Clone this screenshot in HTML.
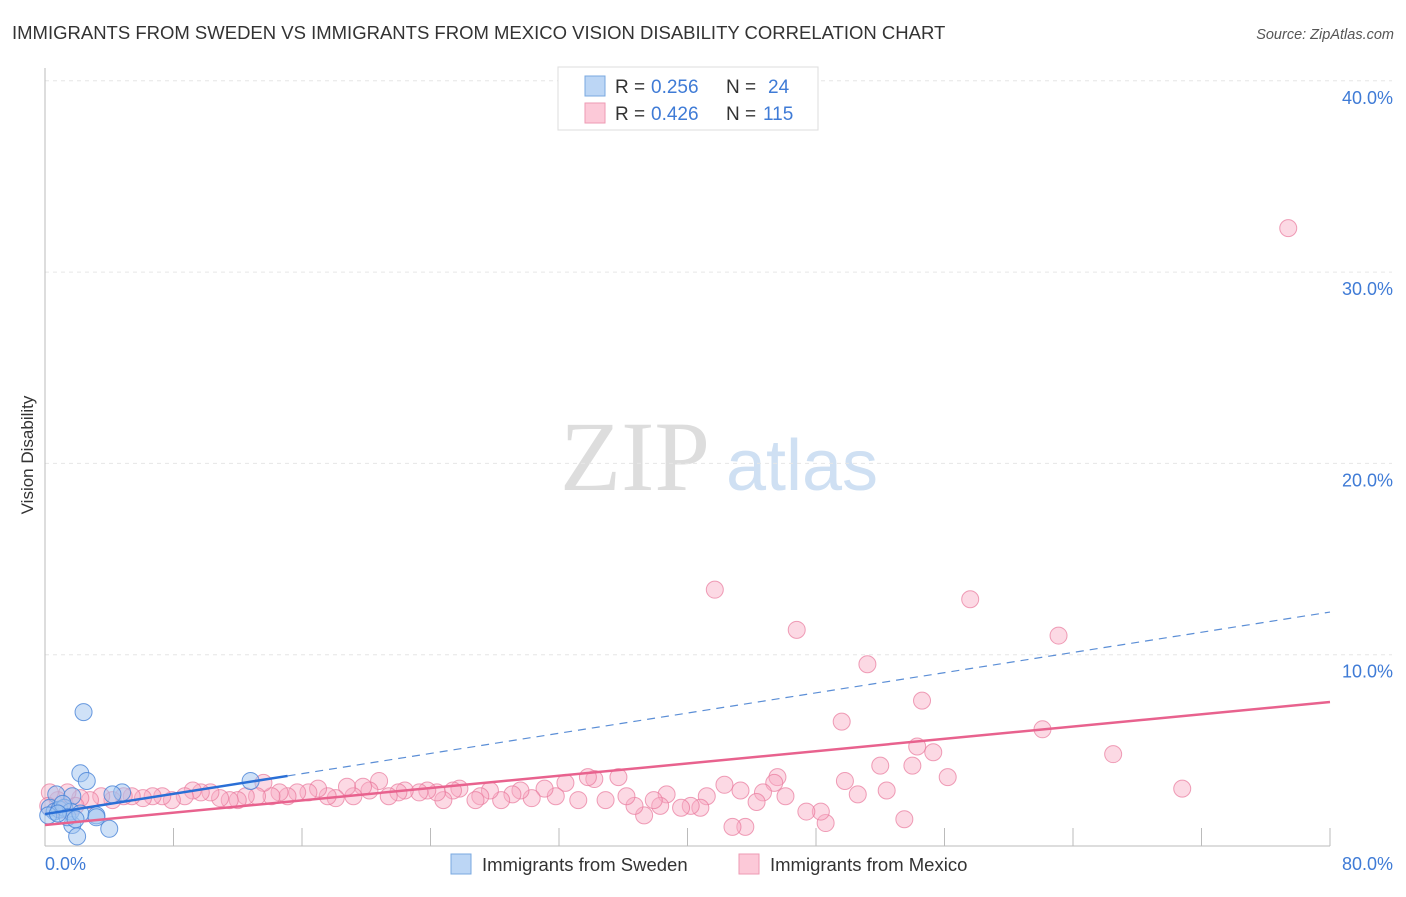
<!DOCTYPE html>
<html><head><meta charset="utf-8"><style>
body{margin:0;background:#fff;font-family:"Liberation Sans",sans-serif;}
svg text{font-family:"Liberation Sans",sans-serif;}
</style></head><body>
<svg id="c" width="1406" height="892">
<text x="12" y="39" font-size="18.5" fill="#333">IMMIGRANTS FROM SWEDEN VS IMMIGRANTS FROM MEXICO VISION DISABILITY CORRELATION CHART</text>
<text x="1394" y="39" font-size="14.5" fill="#555" font-style="italic" text-anchor="end">Source: ZipAtlas.com</text>
<text x="33" y="455" font-size="17" fill="#333" text-anchor="middle" transform="rotate(-90 33 455)">Vision Disability</text>
<g><text x="635" y="490" font-size="100" fill="#ddd" style="font-family:'Liberation Serif',serif" text-anchor="middle">ZIP</text><text x="802" y="490" font-size="72" fill="#cfe0f3" text-anchor="middle">atlas</text></g>
<g id="grid"></g><g id="marks"></g>
<g>
<rect x="558" y="67" width="260" height="63" fill="#fff" stroke="#ddd"/>
<rect x="585" y="76" width="20" height="20" fill="#bcd6f5" stroke="#7aa8e0"/>
<rect x="585" y="103" width="20" height="20" fill="#fcc9d8" stroke="#ee9ab3"/>
<text x="615" y="93" font-size="19" fill="#333">R =</text><text x="651" y="93" font-size="19" fill="#3f7bd6">0.256</text>
<text x="726" y="93" font-size="19" fill="#333">N =</text><text x="768" y="93" font-size="19" fill="#3f7bd6">24</text>
<text x="615" y="120" font-size="19" fill="#333">R =</text><text x="651" y="120" font-size="19" fill="#3f7bd6">0.426</text>
<text x="726" y="120" font-size="19" fill="#333">N =</text><text x="763" y="120" font-size="19" fill="#3f7bd6">115</text>
</g>
<g>
<rect x="451" y="854" width="20" height="20" fill="#bcd6f5" stroke="#7aa8e0"/>
<text x="482" y="871" font-size="18.5" fill="#333">Immigrants from Sweden</text>
<rect x="739" y="854" width="20" height="20" fill="#fcc9d8" stroke="#ee9ab3"/>
<text x="770" y="871" font-size="18.5" fill="#333">Immigrants from Mexico</text>
</g>
</svg>
<script>
const yTicks=[10,20,30,40];
const yTickLabels=["10.0%","20.0%","30.0%","40.0%"];
const xTickLabels=["0.0%","80.0%"];
const swedenX=[2.4,2.2,2.6,4.8,12.8,4.2,3.2,4.0,1.7,2.0,3.2,0.7,1.7,0.3,0.6,0.9,1.2,1.6,0.2,1.1,1.4,2.2,0.8,1.9];
const swedenY=[7.0,3.8,3.4,2.8,3.4,2.7,1.6,0.9,1.1,0.5,1.5,2.7,2.6,2.0,1.8,1.9,2.0,1.8,1.6,2.2,1.5,1.7,1.7,1.4];
const mexicoX=[41.7,46.8,57.6,63.1,51.2,77.4,49.6,54.6,62.1,54.3,55.3,66.5,54.0,56.2,52.0,70.8,52.4,50.6,49.8,53.5,48.6,48.3,47.4,45.6,45.4,46.1,44.7,44.3,43.6,42.8,43.3,42.3,41.2,40.8,40.2,39.6,38.7,38.3,37.9,37.3,36.7,36.2,35.7,34.9,34.2,33.8,33.2,32.4,31.8,31.1,30.3,29.6,29.1,28.4,27.7,27.1,26.8,25.8,25.4,24.8,24.4,23.8,23.3,22.4,22.0,21.4,20.8,20.2,19.8,19.2,18.8,18.1,17.6,17.0,16.4,15.7,15.1,14.6,14.1,13.6,13.2,12.5,12.0,11.5,10.9,10.3,9.7,9.2,8.7,7.9,7.3,6.7,6.1,5.4,4.9,4.2,3.5,2.8,2.2,1.4,0.8,0.3,0.2,1.1,1.9];
const mexicoY=[13.4,11.3,12.9,11.0,9.5,32.3,6.5,7.6,6.1,5.2,4.9,4.8,4.2,3.6,4.2,3.0,2.9,2.7,3.4,1.4,1.2,1.8,1.8,3.6,3.3,2.6,2.8,2.3,1.0,1.0,2.9,3.2,2.6,2.0,2.1,2.0,2.7,2.1,2.4,1.6,2.1,2.6,3.6,2.4,3.5,3.6,2.4,3.3,2.6,3.0,2.5,2.9,2.7,2.4,2.9,2.6,2.4,3.0,2.9,2.4,2.8,2.9,2.8,2.9,2.8,2.6,3.4,2.9,3.1,2.6,3.1,2.5,2.6,3.0,2.8,2.8,2.6,2.8,2.6,3.3,2.6,2.6,2.4,2.4,2.5,2.8,2.8,2.9,2.6,2.4,2.6,2.6,2.5,2.6,2.6,2.4,2.6,2.4,2.5,2.8,2.4,2.8,2.1,1.9,2.1];
const swedenTrend=[1.67,12.23];
const mexicoTrend=[1.1,7.53];
const swedenSolidEnd=15.1;
const X=v=>45+v/80*1285, Y=v=>846-v*19.13;
const NS="http://www.w3.org/2000/svg";
function mk(t,a,p){const e=document.createElementNS(NS,t);for(const k in a)e.setAttribute(k,a[k]);p.appendChild(e);return e;}
const g=document.getElementById('grid'),m=document.getElementById('marks');
yTicks.forEach((t,i)=>{
 const l=mk('line',{x1:45,x2:1392,y1:Y(t),y2:Y(t),stroke:'#e6e6e6','stroke-dasharray':'4,4'},g);
 
 
 const tx=mk('text',{x:1393,y:Y(t)+23,'font-size':18,fill:'#3f7bd6','text-anchor':'end'},g);tx.textContent=yTickLabels[i];
 
 
});
mk('line',{x1:45,x2:45,y1:68,y2:846,stroke:'#bbb'},g);
mk('line',{x1:45,x2:1330,y1:846,y2:846,stroke:'#bbb'},g);
for(let i=0;i<=10;i++){const xx=X(i*8);mk('line',{x1:xx,x2:xx,y1:828,y2:846,stroke:'#bbb'},g);}
[0,80].forEach((v,i)=>{const t=mk('text',{x:i?1393:45,y:870,'font-size':18,fill:'#3f7bd6','text-anchor':i?'end':'start'},g);t.textContent=xTickLabels[i];
 
 });
mexicoX.forEach((x,i)=>{const c=mk('circle',{cx:X(x),cy:Y(mexicoY[i]),r:8.5,fill:'rgba(248,170,195,0.45)',stroke:'rgba(232,120,155,0.7)','stroke-width':1},m);
 
 });
swedenX.forEach((x,i)=>{const c=mk('circle',{cx:X(x),cy:Y(swedenY[i]),r:8.5,fill:'rgba(160,196,240,0.5)',stroke:'rgba(70,130,215,0.8)','stroke-width':1},m);
 
 });
const sy=v=>swedenTrend[0]+(swedenTrend[1]-swedenTrend[0])*v/80;
const l1=mk('line',{x1:X(swedenSolidEnd),y1:Y(sy(swedenSolidEnd)),x2:X(80),y2:Y(sy(80)),stroke:'#5b8ed6','stroke-width':1.2,'stroke-dasharray':'8,6'},m);


const l2=mk('line',{x1:X(0),y1:Y(sy(0)),x2:X(swedenSolidEnd),y2:Y(sy(swedenSolidEnd)),stroke:'#2a6fd6','stroke-width':2.5},m);


const l3=mk('line',{x1:X(0),y1:Y(mexicoTrend[0]),x2:X(80),y2:Y(mexicoTrend[1]),stroke:'#e8628e','stroke-width':2.5},m);


</script>
</body></html>
